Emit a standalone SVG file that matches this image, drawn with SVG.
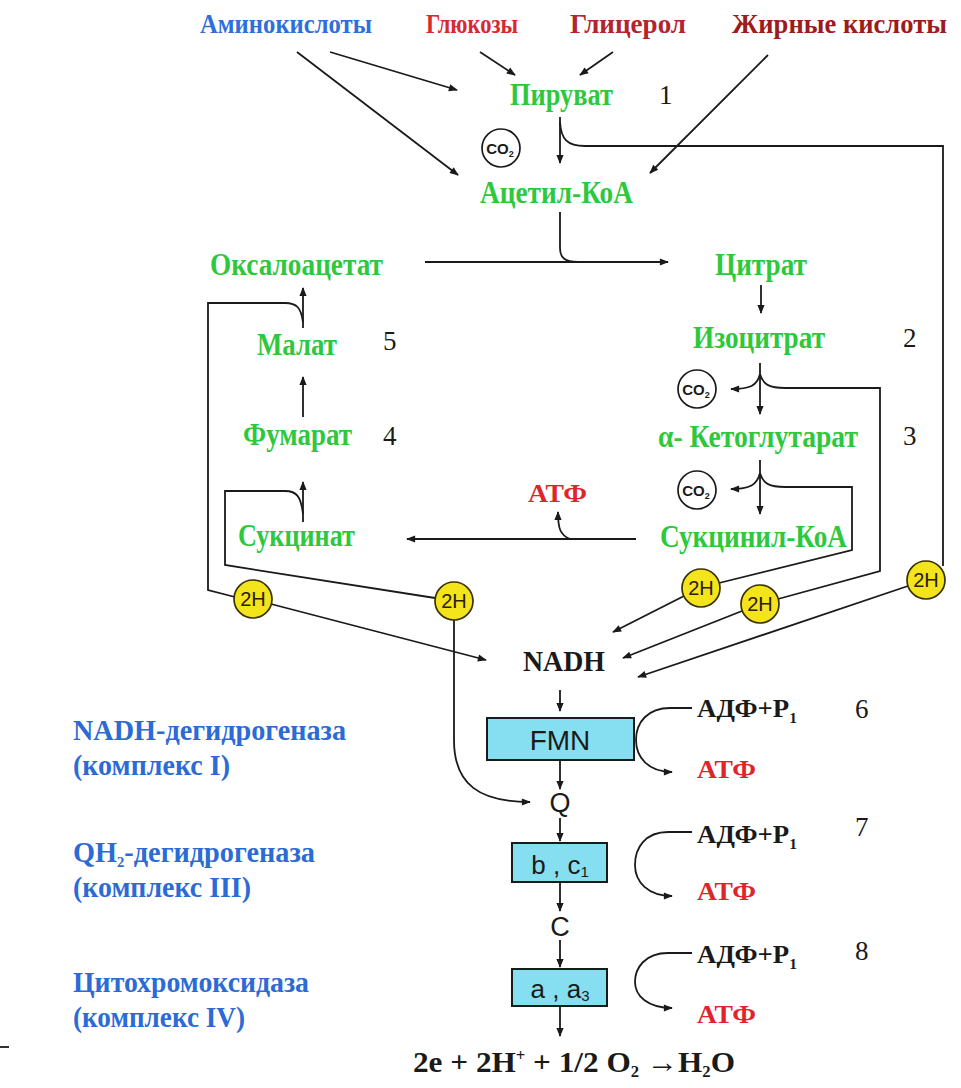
<svg xmlns="http://www.w3.org/2000/svg" width="961" height="1088" viewBox="0 0 961 1088">
<defs>
<marker id="ah" viewBox="0 0 10 10" refX="9" refY="5" markerWidth="10" markerHeight="9" markerUnits="userSpaceOnUse" orient="auto"><path d="M0,1 L10,5 L0,9 Z" fill="#1a1a1a"/></marker>
</defs>
<style>
.ln{fill:none;stroke:#1a1a1a;stroke-width:1.8}
.ar{marker-end:url(#ah)}
.g{font-family:"Liberation Serif",serif;font-weight:bold;font-size:31px;fill:#2ec83c}
.top{font-family:"Liberation Serif",serif;font-weight:bold;font-size:27px}
.num{font-family:"Liberation Serif",serif;font-size:27px;fill:#1a1a1a}
.bk{font-family:"Liberation Serif",serif;font-weight:bold;font-size:26px;fill:#1a1a1a}
.rd{font-family:"Liberation Serif",serif;font-weight:bold;font-size:25px;fill:#e0242c}
.bl{font-family:"Liberation Serif",serif;font-weight:bold;font-size:29px;fill:#2c6bd6}
.sans{font-family:"Liberation Sans",Arial,sans-serif;fill:#1a1a1a}
.co{fill:#fff;stroke:#1a1a1a;stroke-width:1.7}
.h2{fill:#f4e41c;stroke:#3a3200;stroke-width:1.7}
.h2t{font-family:"Liberation Sans",sans-serif;font-size:20px;fill:#2a2000;text-anchor:middle}
.box{fill:#86dff0;stroke:#1a1a1a;stroke-width:2}
</style>
<rect width="961" height="1088" fill="#fff"/>

<g id="connectors">
<path class="ln ar" d="M297,52 L458,175"/>
<path class="ln ar" d="M330,52 L457,90"/>
<path class="ln ar" d="M480,52 L515,75"/>
<path class="ln ar" d="M613,52 L580,75"/>
<path class="ln ar" d="M768,55 L650,173"/>
<path class="ln ar" d="M560,117 V163"/>
<path class="ln" d="M560,122 C561,139 567,146 585,146 H943 V566"/>
<path class="ln" d="M560,212 V248 C560,258 565,262 578,262"/>
<path class="ln ar" d="M425,262 H668"/>
<path class="ln ar" d="M761,285 V313"/>
<path class="ln ar" d="M760,363 V414"/>
<path class="ln ar" d="M760,374 C757,386 750,389 731,389"/>
<path class="ln" d="M760,374 C763,385 770,388 785,388 H880 V571 L778,599"/>
<path class="ln ar" d="M760,460 V514"/>
<path class="ln ar" d="M760,473 C757,485 750,489 731,489"/>
<path class="ln" d="M760,473 C763,484 770,487 785,487 H852 V550 L719,583"/>
<path class="ln ar" d="M636,539 H407"/>
<path class="ln ar" d="M570,539 C560,535 558,528 558,512"/>
<path class="ln ar" d="M303,328 V288"/>
<path class="ln" d="M303,322 C301,308 297,303 285,303 H208 V590 L235,597"/>
<path class="ln ar" d="M303,417 V377"/>
<path class="ln ar" d="M303,522 V482"/>
<path class="ln" d="M303,514 C301,497 297,491 285,491 H225 V565 L435,598"/>
<path class="ln ar" d="M271,604 L486,660"/>
<path class="ln ar" d="M684,596 L613,632"/>
<path class="ln ar" d="M742,611 L623,658"/>
<path class="ln ar" d="M908,586 L638,677"/>
<path class="ln ar" d="M454,620 V740 C454,785 480,802 530,802"/>
<path class="ln ar" d="M560,690 V711"/>
<path class="ln ar" d="M560,761 V789"/>
<path class="ln ar" d="M560,818 V841"/>
<path class="ln ar" d="M560,883 V911"/>
<path class="ln ar" d="M560,940 V967"/>
<path class="ln ar" d="M560,1007 V1036"/>
<path class="ln ar" d="M692,708 H670 C648,708 636,722 636,740 C636,757 648,772 672,772"/>
<path class="ln ar" d="M692,832 H668 C645,832 635,848 635,865 C635,882 648,896 672,896"/>
<path class="ln ar" d="M692,953 H668 C645,953 635,968 635,982 C635,996 648,1008 672,1008"/>
<path class="ln" d="M0,1047 H9"/>
</g>

<g id="sources">
<text class="top" x="200" y="33" textLength="172" lengthAdjust="spacingAndGlyphs" fill="#2f6fdc">Аминокислоты</text>
<text class="top" x="426" y="33" textLength="92" lengthAdjust="spacingAndGlyphs" fill="#d62a30">Глюкозы</text>
<text class="top" x="570" y="33" textLength="116" lengthAdjust="spacingAndGlyphs" fill="#b3242e">Глицерол</text>
<text class="top" x="732" y="33" textLength="215" lengthAdjust="spacingAndGlyphs" fill="#9c1c1c">Жирные кислоты</text>
</g>

<g id="pyruvate"><text class="g" x="510" y="105" textLength="103" lengthAdjust="spacingAndGlyphs">Пируват</text><text class="num" x="659" y="104">1</text></g>
<g id="co2-1"><circle class="co" cx="501" cy="148" r="19"/><text class="sans" x="500" y="154" font-size="15" font-weight="bold" text-anchor="middle">CO<tspan font-size="9" dy="3">2</tspan></text></g>
<g id="acetylcoa"><text class="g" x="480" y="203" textLength="153" lengthAdjust="spacingAndGlyphs">Ацетил-КоА</text></g>
<g id="oxaloacetate"><text class="g" x="210" y="275" textLength="173" lengthAdjust="spacingAndGlyphs">Оксалоацетат</text></g>
<g id="citrate"><text class="g" x="715" y="275" textLength="92" lengthAdjust="spacingAndGlyphs">Цитрат</text></g>
<g id="isocitrate"><text class="g" x="693" y="348" textLength="132" lengthAdjust="spacingAndGlyphs">Изоцитрат</text><text class="num" x="903" y="347">2</text></g>
<g id="co2-2"><circle class="co" cx="697" cy="389" r="19"/><text class="sans" x="696" y="395" font-size="15" font-weight="bold" text-anchor="middle">CO<tspan font-size="9" dy="3">2</tspan></text></g>
<g id="ketoglutarate"><text class="g" x="658" y="447" textLength="200" lengthAdjust="spacingAndGlyphs">α- Кетоглутарат</text><text class="num" x="903" y="445">3</text></g>
<g id="co2-3"><circle class="co" cx="697" cy="490" r="19"/><text class="sans" x="696" y="496" font-size="15" font-weight="bold" text-anchor="middle">CO<tspan font-size="9" dy="3">2</tspan></text></g>
<g id="succinylcoa"><text class="g" x="660" y="547" textLength="187" lengthAdjust="spacingAndGlyphs">Сукцинил-КоА</text></g>
<g id="atp-cycle"><text class="rd" x="528" y="502" textLength="59" lengthAdjust="spacingAndGlyphs">АТФ</text></g>
<g id="succinate"><text class="g" x="238" y="546" textLength="117" lengthAdjust="spacingAndGlyphs">Сукцинат</text></g>
<g id="fumarate"><text class="g" x="243" y="445" textLength="109" lengthAdjust="spacingAndGlyphs">Фумарат</text><text class="num" x="383" y="445">4</text></g>
<g id="malate"><text class="g" x="257" y="355" textLength="80" lengthAdjust="spacingAndGlyphs">Малат</text><text class="num" x="383" y="350">5</text></g>

<g id="h2-1"><circle class="h2" cx="253" cy="599" r="19"/><text class="h2t" x="253" y="606">2H</text></g>
<g id="h2-2"><circle class="h2" cx="454" cy="601" r="19"/><text class="h2t" x="454" y="608">2H</text></g>
<g id="h2-3"><circle class="h2" cx="701" cy="588" r="19"/><text class="h2t" x="701" y="595">2H</text></g>
<g id="h2-4"><circle class="h2" cx="760" cy="604" r="19"/><text class="h2t" x="760" y="611">2H</text></g>
<g id="h2-5"><circle class="h2" cx="926" cy="580" r="19"/><text class="h2t" x="926" y="587">2H</text></g>

<g id="nadh"><text x="523" y="671" textLength="82" lengthAdjust="spacingAndGlyphs" font-family="Liberation Serif, serif" font-weight="bold" font-size="29" fill="#1a1a1a">NADH</text></g>

<g id="complex1">
<rect class="box" x="487" y="718" width="147" height="42"/>
<text class="sans" x="560" y="750" font-size="28" text-anchor="middle">FMN</text>
<text class="bl" x="73" y="740" textLength="273" lengthAdjust="spacingAndGlyphs">NADH-дегидрогеназа</text>
<text class="bl" x="73" y="775" textLength="157" lengthAdjust="spacingAndGlyphs">(комплекс I)</text>
<text class="bk" x="697" y="717" textLength="100" lengthAdjust="spacingAndGlyphs">АДФ+P<tspan font-size="15" dy="6">1</tspan></text>
<text class="num" x="855" y="718">6</text>
<text class="rd" x="697" y="778" textLength="59" lengthAdjust="spacingAndGlyphs">АТФ</text>
</g>

<g id="q"><text class="sans" x="560" y="812" font-size="27" text-anchor="middle">Q</text></g>

<g id="complex3">
<rect class="box" x="512" y="843" width="95" height="39"/>
<text class="sans" x="560" y="874" font-size="26" text-anchor="middle">b , c<tspan font-size="15" dy="3">1</tspan></text>
<text class="bl" x="73" y="862" textLength="242" lengthAdjust="spacingAndGlyphs">QH<tspan font-size="15" dy="5">2</tspan><tspan dy="-5">-дегидрогеназа</tspan></text>
<text class="bl" x="73" y="897" textLength="178" lengthAdjust="spacingAndGlyphs">(комплекс III)</text>
<text class="bk" x="697" y="843" textLength="100" lengthAdjust="spacingAndGlyphs">АДФ+P<tspan font-size="15" dy="6">1</tspan></text>
<text class="num" x="855" y="836">7</text>
<text class="rd" x="697" y="900" textLength="59" lengthAdjust="spacingAndGlyphs">АТФ</text>
</g>

<g id="c"><text class="sans" x="560" y="936" font-size="27" text-anchor="middle">C</text></g>

<g id="complex4">
<rect class="box" x="512" y="969" width="95" height="37"/>
<text class="sans" x="560" y="998" font-size="26" text-anchor="middle">a , a<tspan font-size="15" dy="3">3</tspan></text>
<text class="bl" x="73" y="992" textLength="236" lengthAdjust="spacingAndGlyphs">Цитохромоксидаза</text>
<text class="bl" x="73" y="1027" textLength="172" lengthAdjust="spacingAndGlyphs">(комплекс IV)</text>
<text class="bk" x="697" y="963" textLength="100" lengthAdjust="spacingAndGlyphs">АДФ+P<tspan font-size="15" dy="6">1</tspan></text>
<text class="num" x="855" y="960">8</text>
<text class="rd" x="697" y="1023" textLength="59" lengthAdjust="spacingAndGlyphs">АТФ</text>
</g>

<g id="water"><text x="413" y="1072" textLength="322" lengthAdjust="spacingAndGlyphs" font-family="Liberation Serif, serif" font-weight="bold" font-size="30" fill="#1a1a1a">2e + 2H<tspan font-size="16" dy="-11">+</tspan><tspan dy="11"> + 1/2 O</tspan><tspan font-size="16" dy="5">2</tspan><tspan dy="-5"> →H</tspan><tspan font-size="16" dy="5">2</tspan><tspan dy="-5">O</tspan></text></g>
</svg>
